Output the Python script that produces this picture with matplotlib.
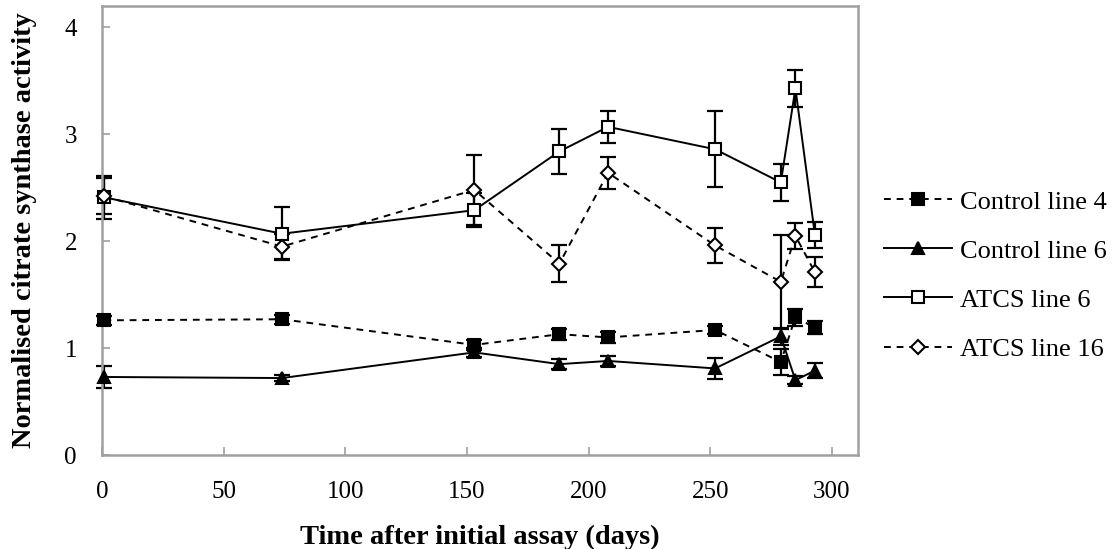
import matplotlib
matplotlib.use("Agg")
from matplotlib import pyplot as plt

# days after the initial assay
days = [1, 74, 153, 188, 208, 252, 279, 285, 293]

ctrl4 = [1.26, 1.27, 1.03, 1.13, 1.10, 1.17, 0.87, 1.29, 1.19]
ctrl4_err = [0.04, 0.04, 0.05, 0.05, 0.05, 0.04, 0.12, 0.08, 0.06]

ctrl6 = [0.73, 0.72, 0.96, 0.85, 0.88, 0.81, 1.11, 0.70, 0.79]
ctrl6_err = [0.10, 0.03, 0.04, 0.05, 0.05, 0.10, 0.08, 0.04, 0.07]

atcs6 = [2.41, 2.07, 2.29, 2.84, 3.07, 2.86, 2.55, 3.43, 2.06]
atcs6_err = [0.20, 0.25, 0.16, 0.21, 0.15, 0.355, 0.17, 0.17, 0.12]

atcs16 = [2.42, 1.95, 2.48, 1.79, 2.64, 1.96, 1.62, 2.05, 1.71]
atcs16_err = [0.17, 0.12, 0.33, 0.17, 0.15, 0.165, 0.44, 0.12, 0.14]

labels = ["Control line 4", "Control line 6", "ATCS line 6", "ATCS line 16"]
yticks = [0, 1, 2, 3, 4]
xticks = [0, 50, 100, 150, 200, 250, 300]

plt.rcParams['font.family'] = ['Liberation Serif', 'DejaVu Serif']

fig = plt.figure(figsize=(11.18, 5.49), dpi=100)
ax = fig.add_axes([0.0912, 0.1712, 0.6762, 0.8178])

dash = (0, (3.5, 3))
series = [
    (ctrl4, ctrl4_err, 's', 'black', dash, 8),
    (ctrl6, ctrl6_err, '^', 'black', '-', 8.5),
    (atcs6, atcs6_err, 's', 'white', '-', 8),
    (atcs16, atcs16_err, 'D', 'white', dash, 7),
]

for (vals, err, mk, fc, ls, ms), lab in zip(series, labels):
    eb = ax.errorbar(days, vals, yerr=err, fmt='none', ecolor='black',
                     elinewidth=1.6, capsize=6, capthick=1.6, zorder=2)
    for art in eb.lines[1] + eb.lines[2]:
        art.set_clip_on(False)
    ax.plot(days, vals, color='black', linestyle=ls, linewidth=1.4,
            marker=mk, markersize=ms, markerfacecolor=fc,
            markeredgecolor='black', markeredgewidth=1.5, label=lab,
            zorder=3, clip_on=False)

ax.set_xlim(0, 310.7)
ax.set_ylim(0, 4.2)
ax.set_xticks(xticks)
ax.set_yticks(yticks)
ax.tick_params(direction='in', length=6, width=1.2, color='#a0a0a0',
               labelsize=18)
ax.tick_params(axis='x', pad=19)
ax.tick_params(axis='y', pad=18)

for s in ax.spines.values():
    s.set_color('#a0a0a0')
    s.set_linewidth(1.8)

ax.set_xlabel("Time after initial assay (days)", fontsize=20.5,
              fontweight='bold', va='center')
ax.set_ylabel("Normalised citrate synthase activity", fontsize=20.5,
              fontweight='bold', va='center')
ax.xaxis.set_label_coords(0.5, -0.183)
ax.yaxis.set_label_coords(-0.102, 0.5)

ax.legend(loc='center left', bbox_to_anchor=(1.034, 0.40), frameon=False,
          fontsize=19, handlelength=2.6, labelspacing=0.97,
          handletextpad=0.3, borderpad=0, borderaxespad=0)

fig.savefig('out.png', dpi=100)
